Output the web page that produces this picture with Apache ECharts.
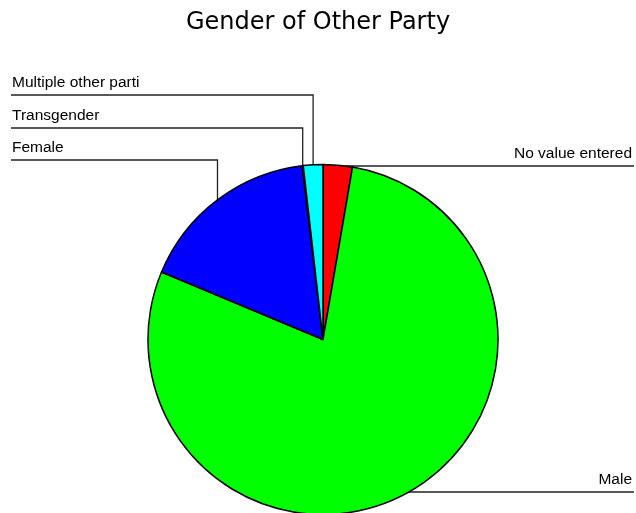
<!DOCTYPE html>
<html><head><meta charset="utf-8">
<script src="https://cdn.jsdelivr.net/npm/echarts@6/dist/echarts.min.js"></script>
<style>html,body{margin:0;padding:0;background:#fff}#c{width:636px;height:513px}</style>
</head><body><div id="c"></div>
<script>
const categories = ['No value entered', 'Male', 'Female', 'Transgender', 'Multiple other parti'];
const values = [27, 786, 168, 1, 18];
const colors = ['#FF0000', '#00FF00', '#0000FF', '#FFFF00', '#00FFFF'];

const chart = echarts.init(document.getElementById('c'), null, {renderer: 'canvas'});
const layout = {
  lineY: [166, 492, 160, 128, 95],
  side: ['right', 'right', 'left', 'left', 'left']
};
chart.setOption({
  animation: false,
  title: {
    text: 'Gender of Other Party', left: 'center', top: 11, padding: [0, 0, 0, 7],
    textStyle: {fontFamily: 'DejaVu Sans', fontSize: 24, fontWeight: 'normal', color: '#000'}
  },
  series: [{
    type: 'pie', center: [323, 339.5], radius: 175, startAngle: 90, clockwise: true,
    avoidLabelOverlap: false,
    data: categories.map((n, i) => ({name: n, value: values[i], itemStyle: {color: colors[i]}})),
    itemStyle: {borderColor: '#000', borderWidth: 1.5},
    label: {show: true, position: 'outside', formatter: '{b}', fontFamily: 'Liberation Sans', fontSize: 15.5, color: '#000'},
    labelLine: {show: true, length: 10, length2: 10, smooth: false, lineStyle: {color: '#222', width: 1.3}},
    emphasis: {disabled: true},
    labelLayout: function (p) {
      const i = p.dataIndex;
      const s = p.labelLinePoints[0];
      const ly = layout.lineY[i];
      if (layout.side[i] === 'left') {
        return {x: 12, y: ly - 12.5, align: 'left', verticalAlign: 'middle',
          labelLinePoints: [[s[0], s[1]], [s[0], ly], [11, ly]]};
      }
      return {x: 632, y: ly - 12.5, align: 'right', verticalAlign: 'middle',
        labelLinePoints: [[s[0], s[1]], [s[0], ly], [634, ly]]};
    }
  }]
});
</script></body></html>
